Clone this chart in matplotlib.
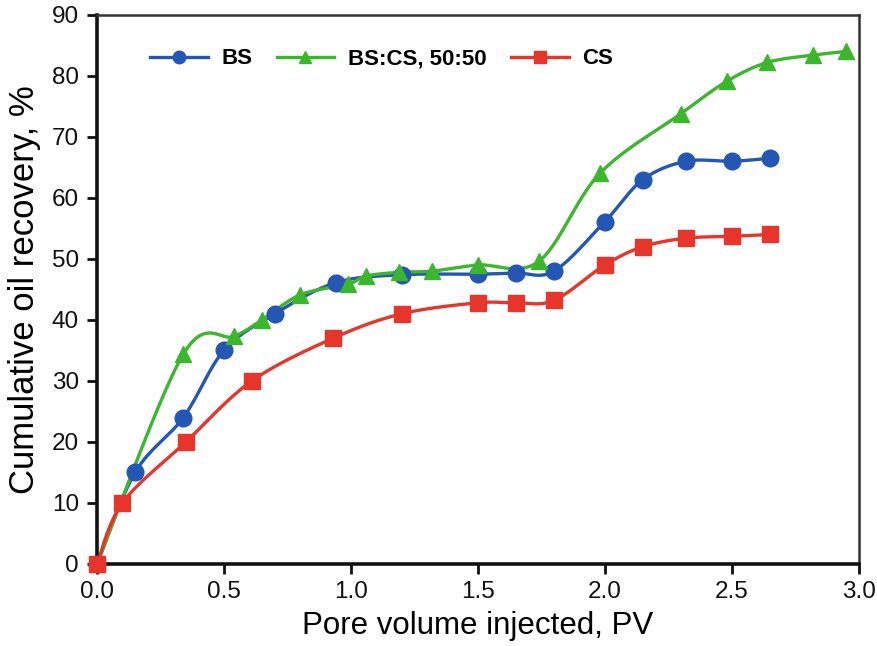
import numpy as np
import matplotlib
matplotlib.use("Agg")
import matplotlib.pyplot as plt

plt.rcParams['font.family'] = ['Liberation Sans', 'DejaVu Sans']

# Cumulative oil recovery (%) vs pore volume injected (PV)
bs_pv = [0.0, 0.15, 0.34, 0.50, 0.70, 0.94, 1.20, 1.50, 1.65, 1.80, 2.00, 2.15, 2.32, 2.50, 2.65]
bs_rec = [0.0, 15.0, 24.0, 35.0, 41.0, 46.1, 47.4, 47.5, 47.7, 48.0, 56.1, 63.0, 66.0, 66.0, 66.5]

mix_pv = [0.0, 0.34, 0.54, 0.65, 0.80, 0.99, 1.06, 1.19, 1.32, 1.50, 1.74, 1.98, 2.30, 2.48, 2.64, 2.82, 2.95]
mix_rec = [0.0, 34.4, 37.3, 40.0, 44.1, 45.9, 47.2, 47.8, 48.0, 49.0, 49.6, 64.0, 73.8, 79.1, 82.2, 83.4, 84.0]

cs_pv = [0.0, 0.10, 0.35, 0.61, 0.93, 1.20, 1.50, 1.65, 1.80, 2.00, 2.15, 2.32, 2.50, 2.65]
cs_rec = [0.0, 10.0, 20.0, 30.0, 37.0, 41.0, 42.8, 42.8, 43.2, 49.0, 52.0, 53.4, 53.7, 54.0]

series_labels = ["BS", "BS:CS, 50:50", "CS"]
x_ticks = [0.0, 0.5, 1.0, 1.5, 2.0, 2.5, 3.0]
y_ticks = [0, 10, 20, 30, 40, 50, 60, 70, 80, 90]


def smooth_curve(x, y, n=30):
    """Bezier smoothing through every point (control points at 1/6 of neighbour span)."""
    p = np.column_stack([x, y]).astype(float)
    m = len(p)
    out = [p[0]]
    t = np.linspace(0, 1, n)[1:, None]
    for i in range(m - 1):
        p0 = p[i - 1] if i > 0 else p[i]
        p1, p2 = p[i], p[i + 1]
        p3 = p[i + 2] if i + 2 < m else p[i + 1]
        c1 = p1 + (p2 - p0) / 6.0
        c2 = p2 - (p3 - p1) / 6.0
        seg = ((1 - t) ** 3) * p1 + 3 * ((1 - t) ** 2) * t * c1 + 3 * (1 - t) * t ** 2 * c2 + t ** 3 * p2
        out.extend(seg)
    out = np.array(out)
    return out[:, 0], out[:, 1]


fig = plt.figure(figsize=(8.78, 6.46), dpi=100)
ax = fig.add_axes([0.1105, 0.127, 0.8675, 0.85])

styles = [
    (bs_pv, bs_rec, "#2456b4", "o", 12),
    (mix_pv, mix_rec, "#3cb62c", "^", 12),
    (cs_pv, cs_rec, "#e8352b", "s", 11),
]

handles = []
for (xs, ys, col, mk, ms), lab in zip(styles, series_labels):
    sx, sy = smooth_curve(xs, ys)
    ax.plot(sx, sy, color=col, lw=2.4, zorder=2)
    ax.plot(xs, ys, ls="none", marker=mk, ms=ms, color=col, mec=col, zorder=3, clip_on=False)
    h, = ax.plot([], [], color=col, lw=2.4, marker=mk, ms=ms * 0.75, mec=col, label=lab)
    handles.append(h)

ax.set_xlim(0, 3.0)
ax.set_ylim(0, 90)
ax.set_xticks(x_ticks)
ax.set_xticklabels([f"{v:.1f}" for v in x_ticks])
ax.set_yticks(y_ticks)
ax.tick_params(axis="both", direction="out", length=7, width=2, labelsize=17.5,
               colors="#111111", top=False, right=False)
ax.tick_params(axis="x", pad=5)
ax.tick_params(axis="y", pad=6)

for side in ("left", "bottom"):
    ax.spines[side].set_linewidth(2.6)
    ax.spines[side].set_color("#111111")
for side in ("top", "right"):
    ax.spines[side].set_linewidth(1.8)
    ax.spines[side].set_color("#333333")

ax.set_xlabel("Pore volume injected, PV", fontsize=22.5, labelpad=6)
ax.set_ylabel("Cumulative oil recovery, %", fontsize=25, labelpad=8)

ax.legend(handles=handles, loc="center left", bbox_to_anchor=(0.055, 0.92), ncol=3,
          frameon=False, prop={"weight": "bold", "size": 16}, handlelength=2.6,
          handletextpad=0.6, columnspacing=1.1, borderpad=0)

fig.savefig("out.png", dpi=100)
